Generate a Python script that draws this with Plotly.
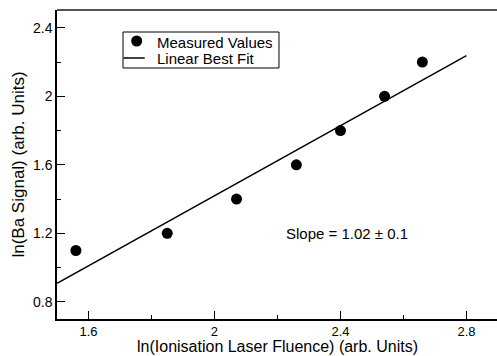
import plotly.graph_objects as go

# Data
fluence = [1.56, 1.85, 2.07, 2.26, 2.40, 2.54, 2.66]
signal = [1.10, 1.20, 1.40, 1.60, 1.80, 2.00, 2.20]
fit_x = [1.50, 2.80]
fit_y = [0.908, 2.238]
x_ticks = [1.6, 2.0, 2.4, 2.8]
x_tick_labels = ["1.6", "2", "2.4", "2.8"]
y_ticks = [0.8, 1.2, 1.6, 2.0, 2.4]
y_tick_labels = ["0.8", "1.2", "1.6", "2", "2.4"]
legend_labels = ["Measured Values", "Linear Best Fit"]
x_title = "ln(Ionisation Laser Fluence) (arb. Units)"
y_title = "ln(Ba Signal) (arb. Units)"

FONT = "Liberation Sans, Arial, Helvetica, sans-serif"

fig = go.Figure()
fig.add_trace(go.Scatter(
    x=fluence, y=signal, mode="markers", name=legend_labels[0],
    marker=dict(color="black", size=11, symbol="circle"), showlegend=False,
))
fig.add_trace(go.Scatter(
    x=fit_x, y=fit_y, mode="lines", name=legend_labels[1],
    line=dict(color="black", width=1.5), showlegend=False,
))

fig.add_annotation(x=2.42, y=1.2, text="Slope = 1.02 ± 0.1", showarrow=False,
                   font=dict(size=15, color="black", family=FONT))

# x-axis title as an annotation pinned to the bottom edge
fig.add_annotation(xref="paper", yref="paper", x=0.5, y=-0.1197, text=x_title,
                   xanchor="center", yanchor="bottom", showarrow=False, borderpad=0,
                   font=dict(size=16, color="black", family=FONT))

# top frame line
fig.add_shape(type="line", xref="paper", yref="paper", x0=0, x1=1, y0=1, y1=1,
              line=dict(color="#555555", width=2))

# legend box drawn by hand
fig.add_shape(type="rect", xref="paper", yref="paper", x0=0.15, x1=0.5045,
              y0=0.8123, y1=0.9288, line=dict(color="black", width=1),
              fillcolor="white", layer="above")
fig.add_shape(type="circle", xref="paper", yref="paper", xsizemode="pixel",
              ysizemode="pixel", xanchor=0.1811, yanchor=0.8997,
              x0=-5.5, x1=5.5, y0=-5.5, y1=5.5,
              fillcolor="black", line=dict(color="black", width=0), layer="above")
fig.add_shape(type="line", xref="paper", yref="paper", x0=0.1511, x1=0.1993,
              y0=0.8447, y1=0.8447, line=dict(color="black", width=1.5), layer="above")
fig.add_annotation(xref="paper", yref="paper", x=0.2239, y=0.8948, text=legend_labels[0],
                   xanchor="left", yanchor="middle", showarrow=False, borderpad=0,
                   font=dict(size=15, color="black", family=FONT))
fig.add_annotation(xref="paper", yref="paper", x=0.2239, y=0.8421, text=legend_labels[1],
                   xanchor="left", yanchor="middle", showarrow=False, borderpad=0,
                   font=dict(size=15, color="black", family=FONT))

axis_common = dict(
    showgrid=False, zeroline=False, showline=True, linecolor="black", linewidth=1.5,
    ticks="inside", ticklen=8, tickwidth=1, tickcolor="black",
    minor=dict(ticks="inside", ticklen=4, tickcolor="black", tickwidth=1),
)

fig.update_xaxes(
    range=[1.5, 2.897], tickmode="array", tickvals=x_ticks, ticktext=x_tick_labels,
    tickfont=dict(size=13, color="black", family=FONT),
    minor_dtick=0.2, **axis_common,
)
fig.update_yaxes(
    range=[0.7, 2.504], tickmode="array", tickvals=y_ticks, ticktext=y_tick_labels,
    tickfont=dict(size=14, color="black", family=FONT),
    title=dict(text=y_title,
               font=dict(size=17, color="black", family=FONT), standoff=4),
    minor_dtick=0.2, **axis_common,
)

fig.update_layout(
    width=497, height=356,
    margin=dict(l=57, r=0, t=10, b=37),
    plot_bgcolor="white", paper_bgcolor="white",
    font=dict(family=FONT, color="black"),
    showlegend=False,
)

fig.write_html("out.html")
